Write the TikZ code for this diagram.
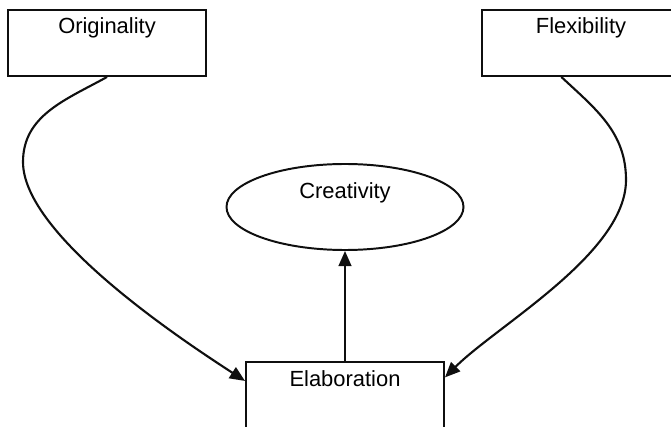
\documentclass[tikz,border=0pt]{standalone}
\usepackage{fontspec}
\setmainfont{Liberation Sans}
\usetikzlibrary{shapes,arrows,positioning,calc}
\usetikzlibrary{shapes.geometric}
\usetikzlibrary{arrows.meta}
\definecolor{inkblack}{RGB}{15,15,15}
\newcommand{\labelfont}{\fontsize{15.6}{18}\selectfont}

\begin{document}
\begin{tikzpicture}[
    factor/.style={rectangle, minimum width=4.95cm, minimum height=1.65cm, inner sep=0.2cm, text height=0.4cm, text depth=0.85cm, draw=inkblack, line width=1.4pt, font=\labelfont},
    outcome/.style={ellipse, minimum width=5.925cm, minimum height=2.15cm, inner sep=0pt, text height=0.4cm, text depth=0.8cm, draw=inkblack, line width=1.4pt, font=\labelfont},
    influence/.style={-{Triangle[length=0.38cm, width=0.32cm]}, line width=1.5pt, draw=inkblack}
]
\useasboundingbox (0,0) rectangle (16.775,10.65);

% Factor boxes
\node[factor] (orig) at (2.675, 9.575) {Originality};
\node[factor] (flex) at (14.525, 9.575) {Flexibility};
\node[factor] (elab) at (8.625, 0.775) {Elaboration};

% Outcome
\node[outcome] (creat) at (8.625, 5.475) {Creativity};

% Bends of the side curves
\coordinate (bendL) at (0.575, 6.6);
\coordinate (bendR) at (15.65, 6.15);

% Side influences into elaboration
\draw[influence] (orig.south) to[out=209, in=90] (bendL) to[out=-90, in=147, looseness=0.6] (elab.172);
\draw[influence] (flex.240) to[out=-43, in=90] (bendR) to[out=-90, in=45, looseness=0.7] (elab.10);

% Elaboration to creativity
\draw[influence] (elab.north) -- (creat.south);

\end{tikzpicture}
\end{document}
